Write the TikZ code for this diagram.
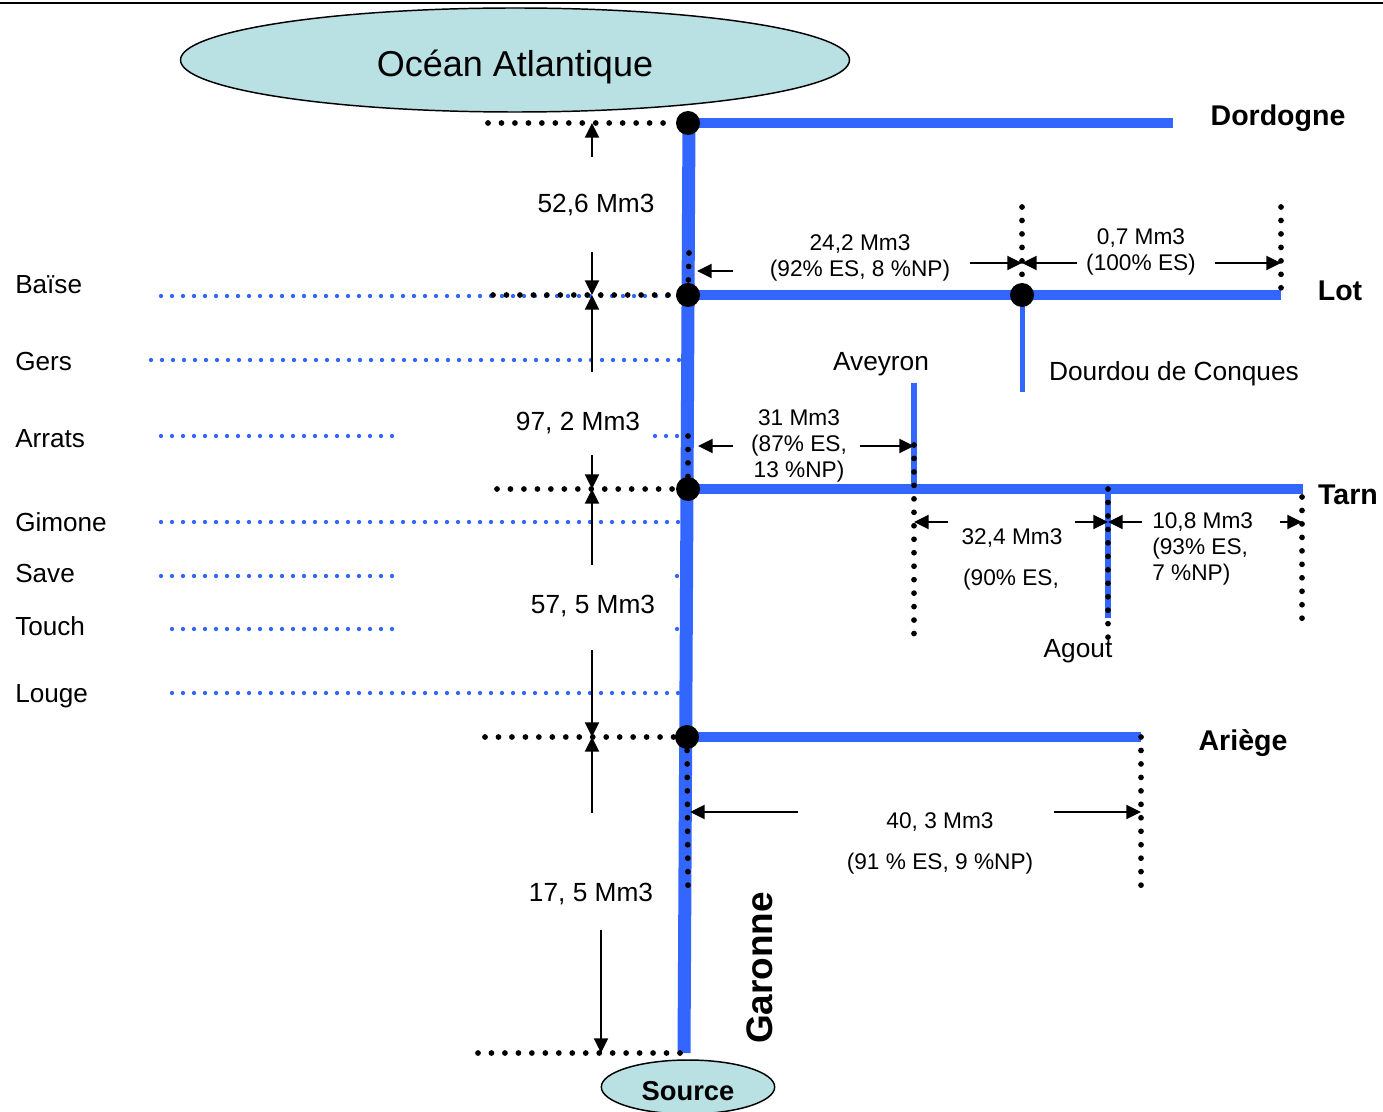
\documentclass[tikz,border=0pt]{standalone}
\usepackage{fontspec}
\setmainfont{Liberation Sans}
\usetikzlibrary{arrows.meta,shapes.geometric}
\definecolor{riv}{HTML}{3366FF}
\definecolor{sea}{HTML}{B9E0E3}
\tikzset{
 river/.style={draw=riv, line width=7.5pt},
 trunk/.style={draw=riv, line width=9.75pt},
 junc/.style={circle, fill=black, inner sep=0pt, minimum size=18pt},
 kdots/.style={draw=black, line width=4.3pt, line cap=round, dash pattern=on 0pt off 10.1pt},
 bdots/.style={draw=riv, line width=3.2pt, line cap=round, dash pattern=on 0pt off 8.25pt},
 dimarrow/.style={draw=black, line width=1.6pt, -{Triangle[length=11pt,width=10.5pt]}},
 sm/.style={font=\fontsize{17pt}{19.8pt}\selectfont, inner sep=0pt, align=center, yshift=-1.5pt},
 md/.style={font=\fontsize{19.7pt}{23pt}\selectfont, inner sep=0pt, yshift=-1.5pt},
 bd/.style={font=\fontsize{21.4pt}{25pt}\selectfont\bfseries, inner sep=0pt, yshift=-1.5pt},
 lab/.style={font=\fontsize{19.6pt}{23pt}\selectfont, inner sep=0pt, anchor=west, yshift=-1pt},
 eau/.style={ellipse, draw=black, line width=1.1pt, fill=sea, inner sep=0pt},
}
\begin{document}
\begin{tikzpicture}[x=0.75pt, y=-0.75pt]
\path[use as bounding box] (0,0) rectangle (1383,1112);
\draw[line width=1.5pt] (0,3) -- (1383,3);

% sea
\node[eau, minimum width=501.75pt, minimum height=78pt] (ocean) at (515,60) {};
\node[inner sep=0pt, font=\fontsize{27pt}{32pt}\selectfont] (oceantxt) at (515,67) {Océan Atlantique};

% coordinates
\coordinate (J0) at (688,123);
\coordinate (J1) at (688,295);
\coordinate (J2) at (688,489);
\coordinate (J3) at (687,737);
\coordinate (Jl) at (1022,295);
\coordinate (Dend) at (1173,123);
\coordinate (Lend) at (1281,295);
\coordinate (Tend) at (1303,489);
\coordinate (Aend) at (1141,737);
\coordinate (Ttop) at (689,118);
\coordinate (Tbot) at (684,1053);
\coordinate (Dou) at (1022,392);
\coordinate (Avt) at (914,383);
\coordinate (Avb) at (914,489);
\coordinate (Agt) at (1108,489);
\coordinate (Agb) at (1108,618);

% tributaries (blue dotted)
\coordinate (b1a) at (161,296); \coordinate (b1b) at (680,296);
\coordinate (b2a) at (151,360); \coordinate (b2b) at (680,360);
\coordinate (b3a) at (161,436); \coordinate (b3b) at (395,436);
\coordinate (b3c) at (655,436); \coordinate (b3d) at (680,436);
\coordinate (b4a) at (161,522); \coordinate (b4b) at (680,522);
\coordinate (b5a) at (161,576); \coordinate (b5b) at (395,576);
\coordinate (b5c) at (677,576); \coordinate (b5d) at (680,576);
\coordinate (b6a) at (172,629); \coordinate (b6b) at (395,629);
\coordinate (b6c) at (677,629); \coordinate (b6d) at (680,629);
\coordinate (b7a) at (172,693); \coordinate (b7b) at (680,693);
\draw[bdots] (b1a) -- (b1b);
\draw[bdots] (b2a) -- (b2b);
\draw[bdots] (b3a) -- (b3b);
\draw[bdots] (b3c) -- (b3d);
\draw[bdots] (b4a) -- (b4b);
\draw[bdots] (b5a) -- (b5b);
\draw[bdots] (b5c) -- (b5d);
\draw[bdots] (b6a) -- (b6b);
\draw[bdots] (b6c) -- (b6d);
\draw[bdots] (b7a) -- (b7b);

% rivers
\draw[trunk] (Ttop) -- (Tbot);
\draw[river] (J0) -- (Dend);
\draw[river] (J1) -- (Lend);
\draw[river] (J2) -- (Tend);
\draw[river] (J3) -- (Aend);
\draw[draw=riv, line width=3.75pt] (Jl) -- (Dou);
\draw[draw=riv, line width=4.5pt] (Avt) -- (Avb);
\draw[draw=riv, line width=5pt] (Agt) -- (Agb);

% black dotted reference lines
\coordinate (k0) at (488,123); \coordinate (k0e) at (676,123);
\coordinate (k1) at (493,295); \coordinate (k1e) at (676,295);
\coordinate (k2) at (497,489); \coordinate (k2e) at (676,489);
\coordinate (k3) at (485,737); \coordinate (k3e) at (676,737);
\coordinate (k4) at (478,1053); \coordinate (k4e) at (684,1053);
\draw[kdots] (k0) -- (k0e);
\draw[kdots] (k1) -- (k1e);
\draw[kdots] (k2) -- (k2e);
\draw[kdots] (k3) -- (k3e);
\draw[kdots] (k4) -- (k4e);
\coordinate (v1) at (689,253);
\coordinate (v2) at (688,436);
\coordinate (v3) at (688,887);
\draw[kdots] (v1) -- (J1);
\draw[kdots] (v2) -- (J2);
\draw[kdots] (J3) -- (v3);
\coordinate (l1) at (1022,207);
\coordinate (l2t) at (1281,207);
\draw[kdots] (l1) -- (Jl);
\draw[kdots] (l2t) -- (Lend);
\coordinate (t1t) at (914,445); \coordinate (t1b) at (914,638);
\coordinate (t2b) at (1108,640);
\coordinate (t3t) at (1302,497); \coordinate (t3b) at (1302,631);
\draw[kdots] (t1t) -- (t1b);
\draw[kdots] (Agt) -- (t2b);
\draw[kdots] (t3t) -- (t3b);
\coordinate (a1b) at (1141,888);
\draw[kdots] (Aend) -- (a1b);

% junction dots
\node[junc] (n0) at (J0) {};
\node[junc] (n1) at (J1) {};
\node[junc] (n2) at (J2) {};
\node[junc] (n3) at (J3) {};
\node[junc] (nl) at (Jl) {};

% vertical dimension arrows along the Garonne
\coordinate (g0) at (592,123);
\coordinate (g1) at (592,295);
\coordinate (g2) at (592,489);
\coordinate (g3) at (592,737);
\coordinate (g4) at (601,1053);
\coordinate (d0s) at (592,157);
\coordinate (d1s) at (592,252);
\coordinate (d2s) at (592,372);
\coordinate (d3s) at (592,455);
\coordinate (d4s) at (592,565);
\coordinate (d5s) at (592,650);
\coordinate (d6s) at (592,813);
\coordinate (d7s) at (601,930);
\draw[dimarrow] (d0s) -- (g0);
\draw[dimarrow] (d1s) -- (g1);
\draw[dimarrow] (d2s) -- (g1);
\draw[dimarrow] (d3s) -- (g2);
\draw[dimarrow] (d4s) -- (g2);
\draw[dimarrow] (d5s) -- (g3);
\draw[dimarrow] (d6s) -- (g3);
\draw[dimarrow] (d7s) -- (g4);
\node[md] (m1) at (596,203) {52,6 Mm3};
\node[md] (m2) at (578,421) {97, 2 Mm3};
\node[md] (m3) at (593,604) {57, 5 Mm3};
\node[md] (m4) at (591,892) {17, 5 Mm3};

% horizontal dimension arrows
\coordinate (h1a) at (733,271); \coordinate (h1b) at (697,271);
\coordinate (h2a) at (970,263); \coordinate (h2b) at (1022,263);
\coordinate (h3a) at (1077,263);
\coordinate (h4a) at (1215,263); \coordinate (h4b) at (1281,263);
\draw[dimarrow] (h1a) -- (h1b);
\draw[dimarrow] (h2a) -- (h2b);
\draw[dimarrow] (h3a) -- (h2b);
\draw[dimarrow] (h4a) -- (h4b);
\node[sm] (q1) at (860,256) {24,2 Mm3\\(92\% ES, 8 \%NP)};
\node[sm] (q2) at (1141,250) {0,7 Mm3\\(100\% ES)};

\coordinate (h5a) at (733,446); \coordinate (h5b) at (698,446);
\coordinate (h6a) at (860,446); \coordinate (h6b) at (914,446);
\draw[dimarrow] (h5a) -- (h5b);
\draw[dimarrow] (h6a) -- (h6b);
\node[sm] (q3) at (799,444) {31 Mm3\\(87\% ES,\\13 \%NP)};

\coordinate (h7a) at (948,522); \coordinate (h7b) at (914,522);
\coordinate (h8a) at (1075,522); \coordinate (h8b) at (1108,522);
\coordinate (h9a) at (1142,522);
\coordinate (h10a) at (1280,522); \coordinate (h10b) at (1302,522);
\draw[dimarrow] (h7a) -- (h7b);
\draw[dimarrow] (h8a) -- (h8b);
\draw[dimarrow] (h9a) -- (h8b);
\draw[dimarrow] (h10a) -- (h10b);
\node[sm] (q4) at (1012,536) {32,4 Mm3};
\node[sm] (q5) at (1011,578) {(90\% ES,};
\node[sm, align=left, anchor=north west] (q6) at (1152,510) {10,8 Mm3\\(93\% ES,\\7 \%NP)};

\coordinate (h11a) at (798,812); \coordinate (h11b) at (690,812);
\coordinate (h12a) at (1054,812); \coordinate (h12b) at (1141,812);
\draw[dimarrow] (h11a) -- (h11b);
\draw[dimarrow] (h12a) -- (h12b);
\node[sm] (q7) at (940,820) {40, 3 Mm3};
\node[sm] (q8) at (940,862) {(91 \% ES, 9 \%NP)};

% river names
\node[bd] (nDor) at (1278,116) {Dordogne};
\node[bd] (nLot) at (1340,289) {Lot};
\node[bd] (nTar) at (1348,493) {Tarn};
\node[bd] (nAri) at (1243,741) {Ariège};
\node[md] (nAve) at (881,362) {Aveyron};
\node[md] (nDou) at (1174,372) {Dourdou de Conques};
\node[md] (nAgo) at (1078,649) {Agout};
\node[inner sep=0pt, rotate=90, font=\fontsize{27.7pt}{32pt}\selectfont\bfseries] (nGar) at (760,968) {Garonne};

% tributary names
\node[lab] (t1) at (15,283) {Baïse};
\node[lab] (t2) at (15,360) {Gers};
\node[lab] (t3) at (15,437) {Arrats};
\node[lab] (t4) at (15,521) {Gimone};
\node[lab] (t5) at (15,572) {Save};
\node[lab] (t6) at (15,625) {Touch};
\node[lab] (t7) at (15,695) {Louge};

% source
\node[eau, minimum width=130pt, minimum height=40.5pt] (src) at (688,1087) {};
\node[inner sep=0pt, font=\fontsize{20.5pt}{24pt}\selectfont\bfseries] (srctxt) at (688,1091) {Source};
\end{tikzpicture}
\end{document}
